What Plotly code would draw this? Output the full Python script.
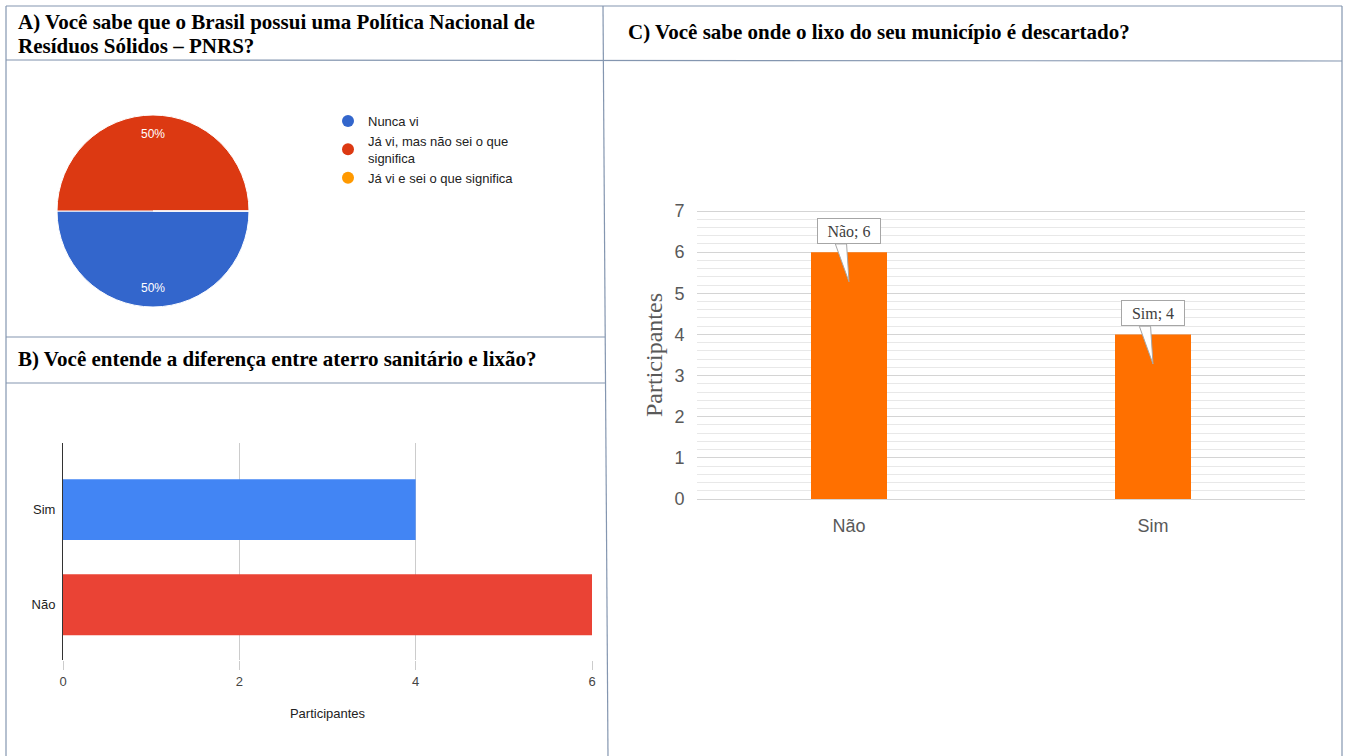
import math
import plotly.graph_objects as go

W, H = 1346, 756

# ---------------- data ----------------
pie_labels = ["Nunca vi", "Já vi, mas não sei o que<br>significa", "Já vi e sei o que significa"]
pie_values = [5, 5, 0]
pie_colors = ["#3366cc", "#dc3912", "#ff9900"]

b_categories = ["Não", "Sim"]
b_values = [6, 4]
b_colors = ["#ea4335", "#4285f4"]
b_ticks = [0, 2, 4, 6]

c_categories = ["Não", "Sim"]
c_values = [6, 4]
c_ticks = [0, 1, 2, 3, 4, 5, 6, 7]

title_a1 = "<b>A) Você sabe que o Brasil possui uma Política Nacional de</b>"
title_a2 = "<b>Resíduos Sólidos – PNRS?</b>"
title_b = "<b>B) Você entende a diferença entre aterro sanitário e lixão?</b>"
title_c = "<b>C) Você sabe onde o lixo do seu município é descartado?</b>"

SERIF = "Liberation Serif, Times New Roman, serif"
SANS = "Liberation Sans, Arial, sans-serif"


def px(x):
    return x / W


def py(y):
    return 1 - y / H


fig = go.Figure()

# ---------------- panel A: pie ----------------
PIE_X0, PIE_X1, PIE_Y0, PIE_Y1 = 57, 249, 115, 307
fig.add_trace(go.Pie(
    labels=pie_labels, values=pie_values, sort=False, direction="clockwise",
    rotation=90, marker=dict(colors=pie_colors, line=dict(color="white", width=1)),
    textinfo="none",
    domain=dict(x=[px(PIE_X0), px(PIE_X1)], y=[py(PIE_Y1), py(PIE_Y0)]),
    showlegend=False, hoverinfo="label+percent",
))
for lab, col in zip(pie_labels, pie_colors):
    fig.add_trace(go.Scatter(
        x=[None], y=[None], mode="markers", name=lab,
        marker=dict(symbol="circle", size=12, color=col),
        xaxis="x", yaxis="y", showlegend=True,
    ))

# ---------------- panel B: horizontal bars ----------------
fig.add_trace(go.Bar(
    y=b_categories, x=b_values, orientation="h", marker=dict(color=b_colors, line=dict(width=0)),
    width=0.64, xaxis="x", yaxis="y", showlegend=False,
))

# ---------------- panel C: vertical bars ----------------
fig.add_trace(go.Bar(
    x=c_categories, y=c_values, marker=dict(color="#ff7000", line=dict(width=0)),
    width=0.25, xaxis="x2", yaxis="y2", showlegend=False,
))

shapes = []
annotations = []

# pie percentage labels (placed near the outer edge of each slice)
total = sum(pie_values)
cx = (PIE_X0 + PIE_X1) / 2
cy = (PIE_Y0 + PIE_Y1) / 2
r = (PIE_X1 - PIE_X0) / 2
acc = 0.0
for v in pie_values:
    if v > 0:
        mid = acc + v / 2
        ang = math.radians(-(mid / total) * 360)  # clockwise from 3 o'clock
        tx = cx + 0.8 * r * math.cos(ang)
        ty = cy - 0.8 * r * math.sin(ang)
        annotations.append(dict(
            x=px(tx), y=py(ty), xref="paper", yref="paper", showarrow=False,
            text=f"{round(100 * v / total)}%", font=dict(family=SANS, size=12, color="white"),
            xanchor="center", yanchor="middle"))
    acc += v

for i, (cat, v) in enumerate(zip(c_categories, c_values)):
    annotations.append(dict(
        x=i, y=v + 0.51, xref="x2", yref="y2", text=f"{cat}; {v}", showarrow=False,
        font=dict(family=SERIF, size=16, color="#404040"),
        bgcolor="white", bordercolor="#a6a6a6", borderwidth=1, borderpad=4,
        width=54, height=16, xanchor="center", yanchor="middle",
    ))
    shapes.append(dict(
        type="path", xref="x2", yref="y2", layer="above",
        path=f"M {i-0.045},{v+0.2} L {i},{v-0.72} L {i-0.008},{v+0.2} Z",
        fillcolor="white", line=dict(color="#a6a6a6", width=1),
    ))

# ---------------- panel frames ----------------
BC = "#8496b0"
frame_lines = [
    (6, 6, 1342, 6), (6, 6, 6, 756), (1342, 6, 1342, 756),
    (603, 6, 608, 756),
    (6, 60, 1342, 61),
    (6, 337, 605, 337), (6, 383, 606, 383),
]
for x0, y0, x1, y1 in frame_lines:
    shapes.append(dict(type="line", xref="paper", yref="paper",
                       x0=px(x0), y0=py(y0), x1=px(x1), y1=py(y1),
                       line=dict(color=BC, width=1.2), layer="above"))

TF = dict(family=SERIF, size=21, color="black")
annotations += [
    dict(x=px(16), y=py(22), xref="paper", yref="paper", text=title_a1, showarrow=False,
         xanchor="left", yanchor="middle", align="left", font=TF),
    dict(x=px(16), y=py(46), xref="paper", yref="paper", text=title_a2, showarrow=False,
         xanchor="left", yanchor="middle", align="left", font=TF),
    dict(x=px(16), y=py(359), xref="paper", yref="paper", text=title_b, showarrow=False,
         xanchor="left", yanchor="middle", align="left", font=TF),
    dict(x=px(626), y=py(32), xref="paper", yref="paper", text=title_c, showarrow=False,
         xanchor="left", yanchor="middle", align="left", font=TF),
]

# panel C value axis: 0 at y=499px, 7 at y=211px, padded slightly so edge gridlines show
C_Y0_PX, C_Y7_PX, C_PAD = 499, 211, 0.06
unit = (C_Y0_PX - C_Y7_PX) / 7
c_dom = [py(C_Y0_PX + C_PAD * unit), py(C_Y7_PX - C_PAD * unit)]

fig.update_layout(
    width=W, height=H, margin=dict(l=0, r=0, t=0, b=0, pad=0, autoexpand=False),
    paper_bgcolor="white", plot_bgcolor="white",
    shapes=shapes, annotations=annotations,
    legend=dict(x=px(328), y=py(106), xanchor="left", yanchor="top",
                font=dict(family=SANS, size=13, color="#222222"),
                bgcolor="rgba(0,0,0,0)", tracegroupgap=0, itemclick=False),
    xaxis=dict(domain=[px(63), px(592)], range=[0, 6], tickvals=b_ticks,
               showgrid=True, gridcolor="#cccccc", zeroline=False,
               ticks="outside", ticklen=9, tickcolor="#cccccc",
               tickfont=dict(family=SANS, size=13, color="#444444"),
               title=dict(text="Participantes", standoff=21,
                          font=dict(family=SANS, size=13, color="#222222")),
               anchor="y", fixedrange=True, automargin=False),
    yaxis=dict(domain=[py(660), py(443)], type="category", categoryorder="array",
               categoryarray=b_categories, range=[-0.58, 1.70],
               showline=True, linecolor="#333333", linewidth=1, showgrid=False,
               ticks="outside", ticklen=4, tickcolor="rgba(0,0,0,0)",
               tickfont=dict(family=SANS, size=13, color="#222222"),
               anchor="x", fixedrange=True, automargin=False),
    xaxis2=dict(domain=[px(697), px(1305)], type="category", categoryorder="array",
                categoryarray=c_categories, range=[-0.5, 1.5],
                showgrid=False, zeroline=False, showline=False,
                ticks="outside", ticklen=8, tickcolor="rgba(0,0,0,0)",
                tickfont=dict(family=SANS, size=18, color="#595959"),
                anchor="y2", fixedrange=True, automargin=False),
    yaxis2=dict(domain=c_dom, range=[-C_PAD, 7 + C_PAD], tickvals=c_ticks,
                showgrid=True, gridcolor="#d4d4d4", gridwidth=1, zeroline=False,
                minor=dict(dtick=0.2, showgrid=True, gridcolor="#e8e8e8", gridwidth=1),
                ticks="outside", ticklen=8, tickcolor="rgba(0,0,0,0)",
                tickfont=dict(family=SANS, size=18, color="#595959"),
                title=dict(text="Participantes", standoff=4,
                           font=dict(family=SERIF, size=24, color="#595959")),
                anchor="x2", fixedrange=True, automargin=False),
)

fig.write_html(
    "out.html",
    post_script="document.body.style.margin='0';document.body.style.overflow='hidden';",
)
